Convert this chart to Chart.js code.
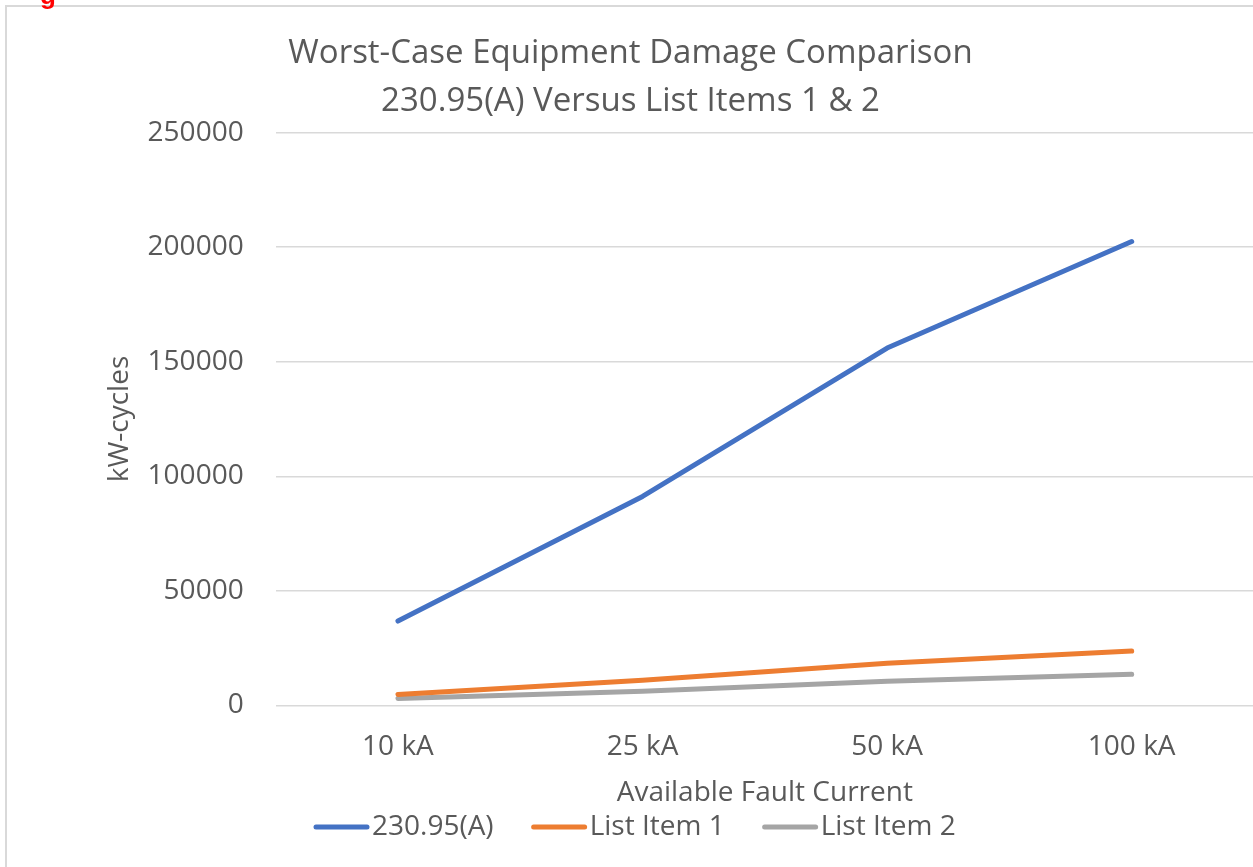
<!DOCTYPE html>
<html>
<head>
<meta charset="utf-8">
<script src="https://cdn.jsdelivr.net/npm/chart.js@4.4.1/dist/chart.umd.min.js"></script>
<style>
  html, body { margin: 0; padding: 0; background: #fff; overflow: hidden; width: 1253px; height: 867px; }
  #frame { position: absolute; left: 5px; top: 5px; width: 1247px; height: 870px; border: 2px solid #d9d9d9; background: #fff; }
  #c { display: block; }
  #cap { position: absolute; left: 40px; top: -18px; font: bold 26px "Liberation Sans", Arial, sans-serif; color: #ff0000; line-height: 1; z-index: 2; }
</style>
</head>
<body>
<div id="cap">g</div>
<div id="frame"><canvas id="c" width="1247" height="870"></canvas></div>
<script>
const categories = ["10 kA", "25 kA", "50 kA", "100 kA"];
const seriesNames = ["230.95(A)", "List Item 1", "List Item 2"];
const seriesA = [36800, 91200, 156000, 202500];
const seriesItem1 = [4800, 11000, 18400, 23700];
const seriesItem2 = [3000, 6200, 10500, 13600];
const yTicks = [0, 50000, 100000, 150000, 200000, 250000];
const titleLines = ["Worst-Case Equipment Damage Comparison", "230.95(A) Versus List Items 1 & 2"];
const xTitle = "Available Fault Current";
const yTitle = "kW-cycles";

const FONT = "'Open Sans', 'Noto Sans', sans-serif";
const TXT = "#595959";
const colors = ["#4472C4", "#ED7D31", "#A5A5A5"];

const customLegend = {
  id: "customLegend",
  afterDraw(chart) {
    const ctx = chart.ctx;
    const area = chart.chartArea;
    ctx.save();
    ctx.font = "28px " + FONT;
    ctx.fillStyle = TXT;
    ctx.textBaseline = "middle";
    ctx.textAlign = "center";
    // x axis title, centred under the plot area
    ctx.fillText(xTitle, (area.left + area.right) / 2, 786);
    // legend
    let x = 306;
    const y = 820;
    ctx.textAlign = "left";
    chart.data.datasets.forEach((ds) => {
      ctx.strokeStyle = ds.borderColor;
      ctx.lineWidth = 5;
      ctx.lineCap = "round";
      ctx.beginPath();
      ctx.moveTo(x + 3, y);
      ctx.lineTo(x + 54, y);
      ctx.stroke();
      x += 59;
      ctx.fillText(ds.label, x, y);
      x += ctx.measureText(ds.label).width + 37;
    });
    ctx.restore();
  }
};

const seriesData = [seriesA, seriesItem1, seriesItem2];

new Chart(document.getElementById("c"), {
  type: "line",
  data: {
    labels: categories,
    datasets: seriesNames.map((name, i) => ({
      label: name,
      data: seriesData[i],
      borderColor: colors[i],
      backgroundColor: colors[i],
      borderWidth: 5,
      borderCapStyle: "round",
      borderJoinStyle: "round",
      pointRadius: 0,
      tension: 0,
      fill: false
    }))
  },
  options: {
    responsive: false,
    animation: false,
    layout: { padding: { left: 0, right: 0, top: 0, bottom: 88 } },
    plugins: {
      legend: { display: false },
      tooltip: { enabled: false },
      title: {
        display: true,
        text: titleLines,
        color: TXT,
        font: { family: FONT, size: 33, weight: "normal", lineHeight: 1.45 },
        padding: { top: 23, bottom: 7 }
      }
    },
    scales: {
      x: {
        type: "category",
        offset: true,
        grid: { display: false, drawTicks: false },
        border: { display: false },
        ticks: { color: TXT, font: { family: FONT, size: 28 }, padding: 25, maxRotation: 0 }
      },
      y: {
        min: 0,
        max: 250000,
        afterBuildTicks(scale) { scale.ticks = yTicks.map(v => ({ value: v })); },
        grid: { color: "#d9d9d9", lineWidth: 1.5, drawTicks: false },
        border: { display: false },
        ticks: { color: TXT, font: { family: FONT, size: 28 }, padding: 32, callback: v => String(v) },
        title: {
          display: true,
          text: yTitle,
          color: TXT,
          font: { family: FONT, size: 28 },
          padding: { top: 96, bottom: -21 }
        }
      }
    }
  },
  plugins: [customLegend]
});
</script>
</body>
</html>
